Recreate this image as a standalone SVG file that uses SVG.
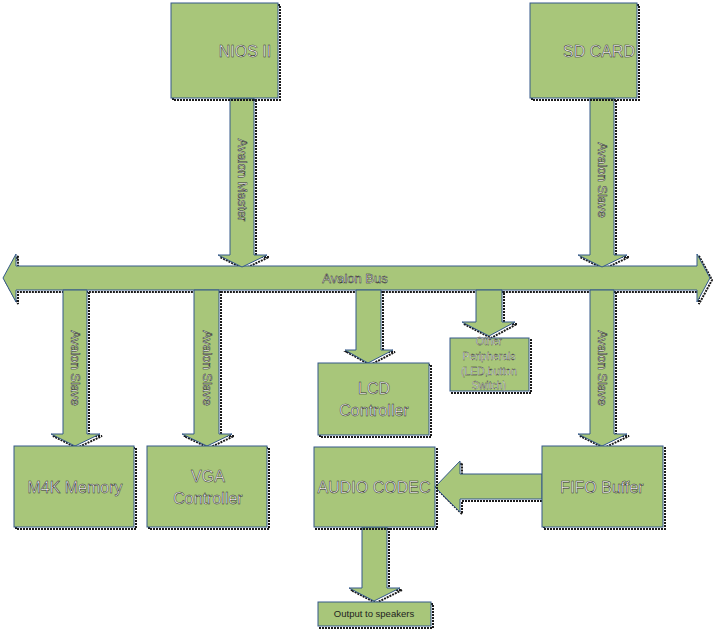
<svg xmlns="http://www.w3.org/2000/svg" xmlns:xlink="http://www.w3.org/1999/xlink" width="714" height="630" viewBox="0 0 714 630">
<style>
.sh{fill:none;stroke:#1a1a1a;stroke-width:2;stroke-dasharray:2 1}
.b{fill:#a8c67a;stroke:#34598a;stroke-width:1}
.t{font-family:"Liberation Sans","DejaVu Sans",sans-serif;fill:#ffffff;stroke:#1e1e1e;stroke-width:0.5;text-anchor:middle;dominant-baseline:central}
.l{font-size:16px}
.m{font-size:13px}
.s{font-size:10.5px;stroke-width:0.3}
.d{font-size:9.5px;fill:#1e1e1e;stroke:none}
</style>
<defs>
<rect id="r-nios" x="171" y="3" width="107" height="95"/>
<rect id="r-sd" x="530" y="3" width="107" height="95"/>
<rect id="r-m4k" x="14" y="446" width="120" height="81"/>
<rect id="r-vga" x="147" y="446" width="120" height="81"/>
<rect id="r-lcd" x="318" y="363" width="111" height="72"/>
<rect id="r-oth" x="450" y="338" width="79" height="53"/>
<rect id="r-aud" x="314" y="447" width="121" height="80"/>
<rect id="r-fifo" x="542" y="446" width="121" height="81"/>
<rect id="r-out" x="318" y="602" width="113" height="24"/>
<polygon id="a-bus" points="3,278 16,254 16,266 697,266 697,254 710,278 697,302 697,290 16,290 16,302"/>
<polygon id="a-nios" points="230,98 254,98 254,255 267,255 242,267 218,255 230,255"/>
<polygon id="a-sd" points="590,98 614,98 614,255 627,255 602,267 578,255 590,255"/>
<polygon id="a-m4k" points="63,290 87,290 87,434 100,434 75,446 51,434 63,434"/>
<polygon id="a-vga" points="194,290 219,290 219,434 232,434 207,446 182,434 194,434"/>
<polygon id="a-lcd" points="356,290 381,290 381,350 393,350 368,363 345,350 356,350"/>
<polygon id="a-oth" points="476,290 502,290 502,322 515,322 489,336 462,322 476,322"/>
<polygon id="a-fifo" points="590,290 614,290 614,434 627,434 602,446 578,434 590,434"/>
<polygon id="a-af" points="542,474 542,499 460,499 460,512 435,487 460,461 460,474"/>
<polygon id="a-out" points="362,527 387,527 387,588 400,588 374,601 349,588 362,588"/>
</defs>
<g id="connectors">
<use xlink:href="#a-bus" class="sh" transform="translate(2,2)"/>
<use xlink:href="#a-nios" class="sh" transform="translate(2,2)"/>
<use xlink:href="#a-sd" class="sh" transform="translate(2,2)"/>
<use xlink:href="#a-m4k" class="sh" transform="translate(2,2)"/>
<use xlink:href="#a-vga" class="sh" transform="translate(2,2)"/>
<use xlink:href="#a-lcd" class="sh" transform="translate(2,2)"/>
<use xlink:href="#a-oth" class="sh" transform="translate(2,2)"/>
<use xlink:href="#a-fifo" class="sh" transform="translate(2,2)"/>
<use xlink:href="#a-af" class="sh" transform="translate(2,2)"/>
<use xlink:href="#a-out" class="sh" transform="translate(2,2)"/>
<use xlink:href="#a-bus" class="b"/>
<use xlink:href="#a-nios" class="b"/>
<use xlink:href="#a-sd" class="b"/>
<use xlink:href="#a-m4k" class="b"/>
<use xlink:href="#a-vga" class="b"/>
<use xlink:href="#a-lcd" class="b"/>
<use xlink:href="#a-oth" class="b"/>
<use xlink:href="#a-fifo" class="b"/>
<use xlink:href="#a-af" class="b"/>
<use xlink:href="#a-out" class="b"/>
<text class="t m" x="355" y="278">Avalon Bus</text>
<text class="t m" transform="translate(242,180) rotate(90)">Avalon Master</text>
<text class="t m" transform="translate(602,180) rotate(90)">Avalon Slave</text>
<text class="t m" transform="translate(75,368) rotate(90)">Avalon Slave</text>
<text class="t m" transform="translate(207,368) rotate(90)">Avalon Slave</text>
<text class="t m" transform="translate(602,368) rotate(90)">Avalon Slave</text>
</g>
<g id="nios">
<use xlink:href="#r-nios" class="sh" transform="translate(2,2)"/>
<use xlink:href="#r-nios" class="b"/>
<text class="t l" x="245" y="51">NIOS II</text>
</g>
<g id="sdcard">
<use xlink:href="#r-sd" class="sh" transform="translate(2,2)"/>
<use xlink:href="#r-sd" class="b"/>
<text class="t l" x="599" y="51">SD CARD</text>
</g>
<g id="m4k">
<use xlink:href="#r-m4k" class="sh" transform="translate(2,2)"/>
<use xlink:href="#r-m4k" class="b"/>
<text class="t l" x="75" y="487">M4K Memory</text>
</g>
<g id="vga">
<use xlink:href="#r-vga" class="sh" transform="translate(2,2)"/>
<use xlink:href="#r-vga" class="b"/>
<text class="t l" x="208" y="476">VGA</text>
<text class="t l" x="208" y="498">Controller</text>
</g>
<g id="lcd">
<use xlink:href="#r-lcd" class="sh" transform="translate(2,2)"/>
<use xlink:href="#r-lcd" class="b"/>
<text class="t l" x="374" y="388">LCD</text>
<text class="t l" x="374" y="410">Controller</text>
</g>
<g id="other">
<use xlink:href="#r-oth" class="sh" transform="translate(2,2)"/>
<use xlink:href="#r-oth" class="b"/>
<text class="t s" x="489" y="341">Other</text>
<text class="t s" x="489" y="356">Peripherals</text>
<text class="t s" x="489" y="371">(LED,button</text>
<text class="t s" x="489" y="385">Switch)</text>
</g>
<g id="audio">
<use xlink:href="#r-aud" class="sh" transform="translate(2,2)"/>
<use xlink:href="#r-aud" class="b"/>
<text class="t l" x="374" y="487">AUDIO CODEC</text>
</g>
<g id="fifo">
<use xlink:href="#r-fifo" class="sh" transform="translate(2,2)"/>
<use xlink:href="#r-fifo" class="b"/>
<text class="t l" x="602" y="487">FIFO Buffer</text>
</g>
<g id="output">
<use xlink:href="#r-out" class="sh" transform="translate(2,2)"/>
<use xlink:href="#r-out" class="b"/>
<text class="t d" x="374" y="613">Output to speakers</text>
</g>
</svg>
